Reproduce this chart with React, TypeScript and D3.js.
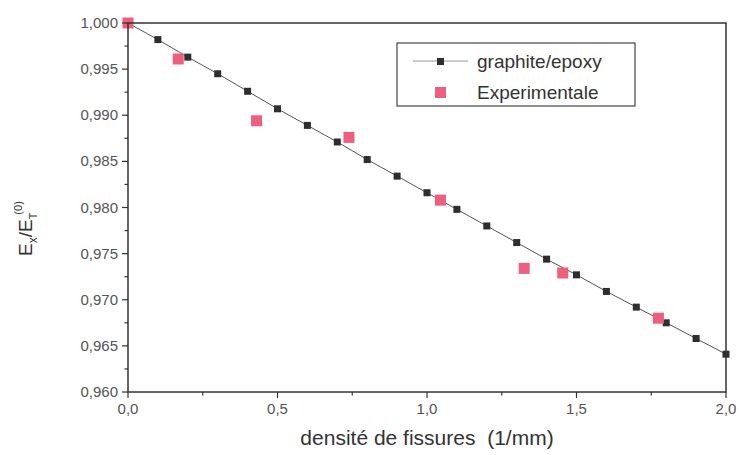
import React from "react";
import * as d3 from "d3";

const modelX = [0, 0.1, 0.2, 0.3, 0.4, 0.5, 0.6, 0.7, 0.8, 0.9, 1.0, 1.1, 1.2, 1.3, 1.4, 1.5, 1.6, 1.7, 1.8, 1.9, 2.0];
const modelY = [1.0, 0.9982, 0.9963, 0.9945, 0.9926, 0.9907, 0.9889, 0.9871, 0.9852, 0.9834, 0.9816, 0.9798, 0.978, 0.9762, 0.9744, 0.9727, 0.9709, 0.9692, 0.9675, 0.9658, 0.9641];
const expX = [0, 0.168, 0.43, 0.739, 1.045, 1.325, 1.454, 1.774];
const expY = [1.0, 0.9961, 0.9894, 0.9876, 0.9808, 0.9734, 0.9729, 0.968];
const xTicks = [0, 0.5, 1.0, 1.5, 2.0];
const yTicks = [0.96, 0.965, 0.97, 0.975, 0.98, 0.985, 0.99, 0.995, 1.0];
const xMinor = [0.25, 0.75, 1.25, 1.75];
const yMinor = [0.9625, 0.9675, 0.9725, 0.9775, 0.9825, 0.9875, 0.9925, 0.9975];

const W = 739, H = 455;
const L = 128, R = 726, T = 23, B = 392;
const font = "'Liberation Sans', Arial, sans-serif";
const pink = "#ee5f7d";
const dark = "#2e2e2e";

export default function App() {
  const x = d3.scaleLinear().domain([0, 2]).range([L, R]);
  const y = d3.scaleLinear().domain([0.96, 1.0]).range([B, T]);
  const fmt = (v: number, d: number) => v.toFixed(d).replace(".", ",");
  const line = d3.line<number>().x((_, i) => x(modelX[i])).y((v) => y(v));
  return (
    <svg width={W} height={H} style={{ position: "absolute", left: 0, top: 0, background: "#fff" }}>
      <rect x={0} y={0} width={W} height={H} fill="#fff" />
      <path d={line(modelY) || ""} fill="none" stroke="#555" strokeWidth={1} />
      {modelY.map((v, i) => (
        <rect key={"m" + i} x={x(modelX[i]) - 3.5} y={y(v) - 3.5} width={7} height={7} fill={dark} />
      ))}
      {expY.map((v, i) => (
        <rect key={"e" + i} x={x(expX[i]) - 5.5} y={y(v) - 5.5} width={11} height={11} fill={pink} />
      ))}
      <rect x={L} y={T} width={R - L} height={B - T} fill="none" stroke="#333" strokeWidth={1.5} />
      {xTicks.map((t) => (
        <g key={"xt" + t}>
          <line x1={x(t)} x2={x(t)} y1={B} y2={B + 6} stroke="#333" strokeWidth={1.2} />
          <text x={x(t)} y={B + 22} textAnchor="middle" fontFamily={font} fontSize={15} fill="#555">{fmt(t, 1)}</text>
        </g>
      ))}
      {xMinor.map((t) => (
        <line key={"xm" + t} x1={x(t)} x2={x(t)} y1={B} y2={B + 3.5} stroke="#333" strokeWidth={1.2} />
      ))}
      {yTicks.map((t) => (
        <g key={"yt" + t}>
          <line x1={L - 6} x2={L} y1={y(t)} y2={y(t)} stroke="#333" strokeWidth={1.2} />
          <text x={L - 10} y={y(t) + 5} textAnchor="end" fontFamily={font} fontSize={15} fill="#555">{fmt(t, 3)}</text>
        </g>
      ))}
      {yMinor.map((t) => (
        <line key={"ym" + t} x1={L - 3.5} x2={L} y1={y(t)} y2={y(t)} stroke="#333" strokeWidth={1.2} />
      ))}
      <text x={(L + R) / 2} y={445} textAnchor="middle" fontFamily={font} fontSize={21} fill="#333">densité de fissures{"\u00a0\u00a0"}(1/mm)</text>
      <text transform="translate(32,256) rotate(-90)" textAnchor="start" fontFamily={font} fontSize={19} fill="#333">
        E<tspan fontSize={12} dy={5}>x</tspan><tspan dy={-5}>/E</tspan><tspan fontSize={11} dy={5}>T</tspan><tspan fontSize={11} dy={-15} dx={-2}>(0)</tspan>
      </text>
      <rect x={397} y={43} width={238} height={63} fill="#fff" stroke="#444" strokeWidth={1.2} />
      <line x1={413} x2={468} y1={61} y2={61} stroke="#999" strokeWidth={1} />
      <rect x={437} y={58} width={7} height={7} fill={dark} />
      <text x={477} y={68} fontFamily={font} fontSize={19} fill="#333">graphite/epoxy</text>
      <rect x={435} y={87} width={11} height={11} fill={pink} />
      <text x={477} y={99} fontFamily={font} fontSize={19} fill="#333">Experimentale</text>
    </svg>
  );
}
